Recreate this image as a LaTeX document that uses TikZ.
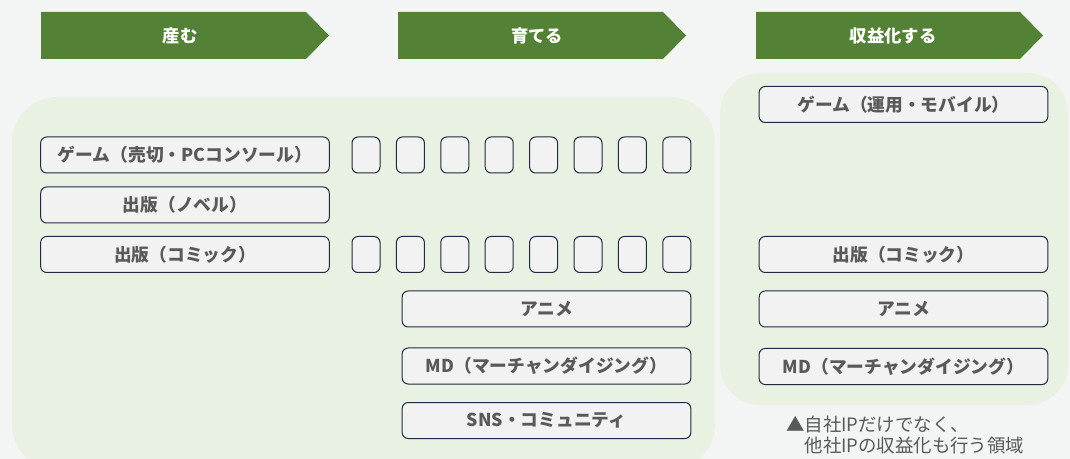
\documentclass[tikz,border=0pt]{standalone}
\usepackage{fontspec}
\setmainfont{Noto Sans CJK JP}
\definecolor{bg}{HTML}{F3F5F5}
\definecolor{region}{HTML}{E9F1E2}
\definecolor{ban}{HTML}{538135}
\definecolor{boxfill}{HTML}{F2F2F2}
\definecolor{boxline}{HTML}{1F2A3C}
\definecolor{txt}{HTML}{595959}
\tikzset{
  banner/.style={fill=ban, draw=none},
  bantext/.style={text=white, font=\fontsize{13pt}{15pt}\selectfont\bfseries},
  regionbox/.style={fill=region, draw=none},
  lbox/.style={draw=boxline, fill=boxfill, line width=0.75pt, rounded corners=4.5pt,
    minimum width=216.5pt, minimum height=27pt, inner sep=0pt, text=txt,
    font=\fontsize{13.3pt}{15pt}\selectfont\bfseries},
  sq/.style={draw=boxline, fill=boxfill, line width=0.75pt, rounded corners=4.5pt,
    minimum width=21pt, minimum height=27pt, inner sep=0pt},
  note/.style={text=txt, font=\fontsize{13.8pt}{15.5pt}\selectfont, align=left, inner sep=0pt}
}
\begin{document}
\begin{tikzpicture}[x=0.75pt, y=-0.75pt]
\fill[bg] (0,0) rectangle (1070,459);
\useasboundingbox (0,0) rectangle (1070,459);
% regions
\fill[regionbox, rounded corners=34pt] (12,97) rectangle (715,470);
\fill[regionbox, rounded corners=30pt] (720,73) rectangle (1068,405);
% banners
\path[banner] (41,12) -- (306,12) -- (329,35.5) -- (306,59) -- (41,59) -- cycle;
\node[bantext] (b1) at (180,35.5) {産む};
\path[banner] (398,12) -- (663,12) -- (686,35.5) -- (663,59) -- (398,59) -- cycle;
\node[bantext] (b2) at (537,35.5) {育てる};
\path[banner] (756,12) -- (1020,12) -- (1043,35.5) -- (1020,59) -- (756,59) -- cycle;
\node[bantext] (b3) at (893,35.5) {収益化する};
% left column
\node[lbox] (l1) at (185,155) {ゲーム（売切・PCコンソール）};
\node[lbox] (l2) at (185,205) {出版（ノベル）};
\node[lbox] (l3) at (185,254.5) {出版（コミック）};
% squares
\foreach \i in {0,...,7}{
  \node[sq] (sa\i) at ({366+44.4*\i},155) {};
  \node[sq] (sb\i) at ({366+44.4*\i},254.5) {};
}
% middle column
\node[lbox] (m1) at (546.5,309) {アニメ};
\node[lbox] (m2) at (546.5,366) {MD（マーチャンダイジング）};
\node[lbox] (m3) at (546.5,420.5) {SNS・コミュニティ};
% right column
\node[lbox] (r1) at (903.5,104.5) {ゲーム（運用・モバイル）};
\node[lbox] (r2) at (903.5,254.5) {出版（コミック）};
\node[lbox] (r3) at (903.5,309) {アニメ};
\node[lbox] (r4) at (903.5,366.5) {MD（マーチャンダイジング）};
% note
\node[note, anchor=north west] (n) at (786,416) {▲自社IPだけでなく、\\\phantom{▲}他社IPの収益化も行う領域};
\end{tikzpicture}
\end{document}
